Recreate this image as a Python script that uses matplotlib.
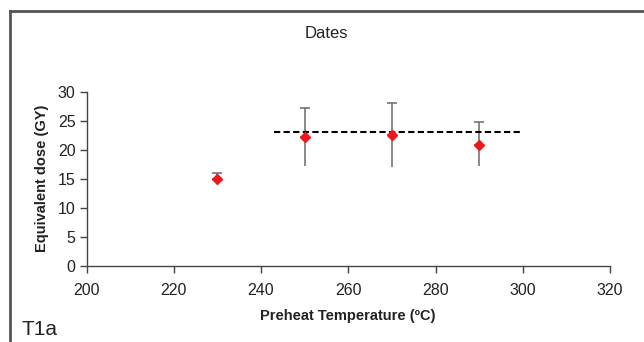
import matplotlib
matplotlib.use("Agg")
import matplotlib.pyplot as plt
from matplotlib.lines import Line2D

plt.rcParams['font.family'] = ['Liberation Sans', 'DejaVu Sans']

# Data
temps = [230, 250, 270, 290]
dose = [15.0, 22.2, 22.5, 20.8]
dose_hi = [16.0, 27.1, 28.0, 24.8]
dose_lo = [14.1, 17.2, 17.0, 17.2]
mean_x = [243, 300]
mean_y = [23.0, 23.0]
x_ticks = [200, 220, 240, 260, 280, 300, 320]
y_ticks = [0, 5, 10, 15, 20, 25, 30]

W, H = 644, 342
fig = plt.figure(figsize=(W / 100, H / 100), dpi=100)
ax = fig.add_axes([86.5 / W, 1 - 266 / H, (610 - 86.5) / W, (266 - 91.5) / H])

# error bars: lower without cap, upper with cap
err_lo = [d - l for d, l in zip(dose, dose_lo)]
err_hi = [h - d for d, h in zip(dose, dose_hi)]
ax.errorbar(temps, dose, yerr=[err_lo, [0] * 4], fmt='none', ecolor='#6a6a6a',
            elinewidth=1.1, capsize=0, zorder=2)
ax.errorbar(temps, dose, yerr=[[0] * 4, err_hi], fmt='none', ecolor='#6a6a6a',
            elinewidth=1.1, capsize=3.3, capthick=1.1, zorder=2)

ax.plot(mean_x, mean_y, color='black', lw=1.5, linestyle=(0, (3, 1.6)), zorder=3)
ax.plot(temps, dose, linestyle='none', marker='D', markersize=5.2,
        color='#f2151c', markeredgecolor='#f2151c', zorder=4)

ax.set_xlim(200, 320)
ax.set_ylim(0, 30)
ax.set_xticks(x_ticks)
ax.set_yticks(y_ticks)
ax.tick_params(axis='both', direction='out', length=5, width=1, color='#444444',
               labelsize=11.5, labelcolor='#222222')
ax.tick_params(axis='x', pad=7)
ax.tick_params(axis='y', pad=3)
for s in ['top', 'right']:
    ax.spines[s].set_visible(False)
for s in ['left', 'bottom']:
    ax.spines[s].set_color('#444444')
    ax.spines[s].set_linewidth(1)

ax.set_xlabel('Preheat Temperature (ºC)', fontsize=10.5, fontweight='bold',
              color='#222222', labelpad=8)
ax.set_ylabel('Equivalent dose (GY)', fontsize=10.5, fontweight='bold',
              color='#222222', labelpad=6)

fig.text(326 / W, 1 - 33 / H, 'Dates', ha='center', va='center',
         fontsize=12, color='#222222')
fig.text(22 / W, 1 - 335 / H, 'T1a', ha='left', va='baseline',
         fontsize=15, color='#222222')

# outer frame (left and top edges visible)
fx = 9.5 / W
fy = 1 - 10.8 / H
fig.add_artist(Line2D([fx, fx], [0, fy], transform=fig.transFigure,
                      color='#555555', lw=2))
fig.add_artist(Line2D([fx, 1], [fy, fy], transform=fig.transFigure,
                      color='#555555', lw=2))

fig.savefig('out.png', dpi=100)
